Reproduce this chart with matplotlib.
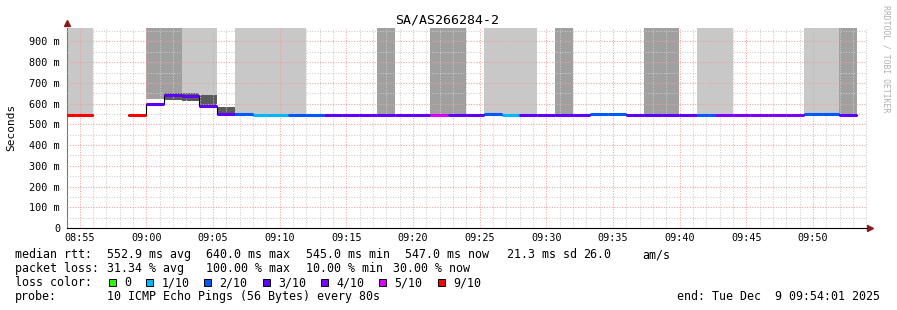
import matplotlib
matplotlib.use('Agg')
import matplotlib.pyplot as plt
import matplotlib.dates as mdates
from matplotlib.patches import Rectangle
from matplotlib.ticker import FuncFormatter, MultipleLocator
import numpy as np
import pandas as pd

nan = np.nan

title = 'SA/AS266284-2'
t_start = pd.Timestamp('2025-12-09 08:54:01')
t_end = pd.Timestamp('2025-12-09 09:54:01')
first_bin = pd.Timestamp('2025-12-09 08:53:18')
step_s = 80
y_top = 965

# median rtt per 80 s step (ms)
median_ms = [546, 546, nan, nan, 546, 600, 640, 636, 588, 549,
             548, 547, 547, 547, 547, 546, 546, 546, 546, 546,
             546, 546, 546, 546, 548, 547, 546, 546, 546, 546,
             548, 548, 546, 546, 546, 546, 547, 545, 545, 545,
             545, 545, 549, 549, 547]
# lost pings out of 10
lost = [9, 9, 10, 10, 9, 3, 3, 3, 3, 3,
        2, 1, 1, 2, 2, 3, 3, 3, 3, 3,
        3, 5, 3, 3, 2, 1, 3, 3, 3, 3,
        2, 2, 3, 3, 3, 3, 2, 4, 4, 4,
        4, 4, 2, 2, 3]
# smoke running off the top of the graph (L light / D dark)
smoke_top = ['L', 'L', '', '', '', 'D', 'D', 'L', 'L', '',
             'L', 'L', 'L', 'L', '', '', '', '', 'D', '',
             '', 'D', 'D', '', 'L', 'L', 'L', '', 'D', '',
             '', '', '', 'D', 'D', '', 'L', 'L', '', '',
             '', '', 'L', 'L', 'D']
smoke_from = {5: 623, 6: 653, 7: 653, 8: 643}
# inner smoke band near the median
band_lo = {6: 618, 7: 614, 8: 583, 9: 550}
band_hi = {6: 653, 7: 653, 8: 643, 9: 586}

loss_labels = ['0', '1/10', '2/10', '3/10', '4/10', '5/10', '9/10']
loss_levels = [0, 1, 2, 3, 4, 5, 9]
loss_colors = ['#26ff00', '#00b8ff', '#0059ff', '#5e00ff', '#7e00ff', '#dd00ff', '#ff0000']

# legend rows: (x pixel, text)
row_rtt = [(16, 'median rtt:'), (107.3, '552.9 ms avg'), (206.7, '640.0 ms max'),
           (307, '545.0 ms min'), (406, '547.0 ms now'), (507.7, '21.3 ms sd'),
           (584, '26.0'), (642.7, 'am/s')]
row_loss = [(16, 'packet loss:'), (107.3, '31.34 % avg'), (206.7, '100.00 % max'),
            (307, '10.00 % min'), (394, '30.00 % now')]
row_probe = [(16, 'probe:'), (107.3, '10 ICMP Echo Pings (56 Bytes) every 80s')]
legend_end = 'end: Tue Dec  9 09:54:01 2025'

mono = 'DejaVu Sans Mono'
W, H = 897, 310
fig = plt.figure(figsize=(W / 100, H / 100), dpi=100)
ax = fig.add_axes([66.7 / W, (H - 228) / H, 800 / W, 200 / H])

lefts = [first_bin + pd.Timedelta(seconds=step_s * i) for i in range(len(median_ms))]
xl = mdates.date2num(lefts)
w = step_s / 86400.0
med = np.array(median_ms, dtype=float)

for shade, col in (('L', '#c8c8c8'), ('D', '#a0a0a0')):
    idx = [i for i, s in enumerate(smoke_top) if s == shade]
    bot = [smoke_from.get(i, med[i]) for i in idx]
    ax.bar(xl[idx], [y_top - b for b in bot], bottom=bot, width=w, align='edge',
           color=col, lw=0, zorder=1)

bi = sorted(band_lo)
ax.bar(xl[bi], [band_hi[i] - band_lo[i] for i in bi], bottom=[band_lo[i] for i in bi],
       width=w, align='edge', color='#5a5a5a', lw=0, zorder=1.2)

# median: black steps + loss coloured segments
xs = np.append(xl, xl[-1] + w)
ys = np.append(med, med[-1])
ax.step(xs, ys, where='post', color='black', lw=0.8, zorder=3)
for i in range(len(med)):
    if np.isnan(med[i]):
        continue
    c = loss_colors[loss_levels.index(lost[i])]
    ax.hlines(med[i], xl[i], xl[i] + w, color=c, lw=2.2, zorder=4, capstyle='butt')

ax.set_xlim(mdates.date2num(t_start), mdates.date2num(t_end))
ax.set_ylim(0, y_top)

ax.xaxis.set_major_locator(mdates.MinuteLocator(byminute=range(0, 60, 5)))
ax.xaxis.set_minor_locator(mdates.MinuteLocator())
ax.xaxis.set_major_formatter(mdates.DateFormatter('%H:%M'))
ax.yaxis.set_major_locator(MultipleLocator(100))
ax.yaxis.set_minor_locator(MultipleLocator(50))
ax.yaxis.set_major_formatter(FuncFormatter(lambda v, p: '0' if v == 0 else '%d m' % v))

ax.set_axisbelow(False)
ax.grid(which='minor', color='#cccccc', lw=0.75, ls=(0, (1, 1.5)))
ax.grid(which='major', color='#f0a0a0', lw=0.75, ls=(0, (1, 1.5)))
ax.tick_params(which='both', length=0)
ax.tick_params(axis='y', pad=4.8, labelsize=7.3)
ax.tick_params(axis='x', pad=3.5, labelsize=7.3)
for lab in ax.get_xticklabels() + ax.get_yticklabels():
    lab.set_family(mono)

for s in ('top', 'right'):
    ax.spines[s].set_visible(False)
ax.spines['left'].set_color('#777777')
ax.spines['bottom'].set_color('black')
ax.spines['left'].set_linewidth(0.8)
ax.spines['bottom'].set_linewidth(0.8)
ax.plot([0], [1.025], marker='^', ms=4, color='#8b1a1a', transform=ax.transAxes, clip_on=False)
ax.plot([1.004], [0], marker='>', ms=4, color='#8b1a1a', transform=ax.transAxes, clip_on=False)

fig.text(447.5 / W, 1 - 20 / H, title, ha='center', va='center', family=mono, fontsize=9.5)
fig.text(11 / W, 1 - 127 / H, 'Seconds', rotation=90, ha='center', va='center',
         family=mono, fontsize=8)
fig.text(886 / W, 1 - 5 / H, 'RRDTOOL / TOBI OETIKER', rotation=-90, ha='center', va='top',
         family=mono, fontsize=5.9, color='#b0b0b0')

fs = 8.4
for y, row in ((254.7, row_rtt), (268.3, row_loss), (296.7, row_probe)):
    for x, txt in row:
        fig.text((x - 0.7) / W, 1 - y / H, txt, ha='left', va='center', family=mono, fontsize=fs)
fig.text(15.3 / W, 1 - 282.7 / H, 'loss color:', ha='left', va='center', family=mono, fontsize=fs)
fig.text(880 / W, 1 - 296.7 / H, legend_end, ha='right', va='center', family=mono, fontsize=fs)

cw = 7.0
bx = 108.7
for lab, col in zip(loss_labels, loss_colors):
    fig.add_artist(Rectangle((bx / W, 1 - 285.8 / H), 7 / W, 7 / H, transform=fig.transFigure,
                             facecolor=col, edgecolor='black', lw=0.7))
    tx = bx + 15.3
    fig.text(tx / W, 1 - 282.7 / H, lab, ha='left', va='center', family=mono, fontsize=fs)
    bx = tx + len(lab) * cw + 15

fig.savefig('out.png', dpi=100, facecolor='white')
